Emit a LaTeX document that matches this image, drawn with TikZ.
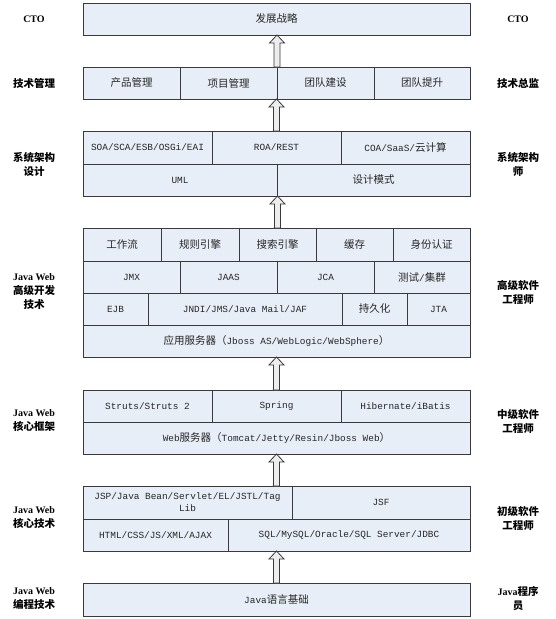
\documentclass[tikz,border=0pt]{standalone}
\usepackage{fontspec}
\setmainfont{Liberation Mono}
\newfontfamily\cjkf{Noto Sans CJK SC}
\newfontfamily\serf{Liberation Serif}
\usetikzlibrary{calc}
\newcommand\zh[1]{{\cjkf\fontsize{10.5pt}{14pt}\selectfont #1}}
\newcommand\zhb[1]{{\cjkf\bfseries\fontsize{10.5pt}{14pt}\selectfont #1}}
\newcommand\enb[1]{{\serf\bfseries\fontsize{10pt}{14pt}\selectfont #1}}
\definecolor{cellfill}{HTML}{E8EEF7}
\definecolor{cellline}{HTML}{3A3A3A}
\definecolor{arrfill}{HTML}{EDEDED}
\tikzset{
  cellbox/.style={draw=cellline, fill=cellfill, line width=1pt, inner sep=0pt, outer sep=0pt,
    font=\fontsize{9.4pt}{13pt}\selectfont, text=black!85, align=center},
  sidelbl/.style={align=center, inner sep=0pt, font=\fontsize{10pt}{14pt}\selectfont},
  blockarrow/.style={draw=cellline, fill=arrfill, line width=0.8pt, line join=miter},
}
\newcommand\cell[6]{\node[cellbox, minimum width=#4pt-#2pt, minimum height=#5pt-#3pt] (#1) at ({(#2+#4)/2},{(#3+#5)/2}) {#6};}
\newcommand\uparr[2]{\draw[blockarrow] let \p1=#1, \p2=#2 in
  (\x1-3pt,\y1) -- (\x1-3pt,\y2-8pt) -- (\x1-7.5pt,\y2-8pt) -- (\x1,\y2) -- (\x1+7.5pt,\y2-8pt) -- (\x1+3pt,\y2-8pt) -- (\x1+3pt,\y1) -- cycle;}
\begin{document}
\begin{tikzpicture}[x=1pt,y=-1pt]
\useasboundingbox[fill=white] (0,0) rectangle (555,619);
% level A
\cell{fz}{83}{3}{470}{35}{\zh{发展战略}}
% level B
\cell{cp}{83}{67}{180}{99}{\zh{产品管理}}
\cell{xm}{180}{67}{277}{99}{\zh{项目管理}}
\cell{tj}{277}{67}{374}{99}{\zh{团队建设}}
\cell{ts}{374}{67}{470}{99}{\zh{团队提升}}
% level C
\cell{soa}{83}{131}{212}{164}{SOA/SCA/ESB/OSGi/EAI}
\cell{roa}{212}{131}{341}{164}{ROA/REST}
\cell{coa}{341}{131}{470}{164}{COA/SaaS/\zh{云计算}}
\cell{uml}{83}{164}{277}{196}{UML}
\cell{sj}{277}{164}{470}{196}{\zh{设计模式}}
% level D
\cell{gzl}{83}{228}{161}{261}{\zh{工作流}}
\cell{gz}{161}{228}{239}{261}{\zh{规则引擎}}
\cell{ss}{239}{228}{316}{261}{\zh{搜索引擎}}
\cell{hc}{316}{228}{393}{261}{\zh{缓存}}
\cell{sf}{393}{228}{470}{261}{\zh{身份认证}}
\cell{jmx}{83}{261}{180}{293}{JMX}
\cell{jaas}{180}{261}{277}{293}{JAAS}
\cell{jca}{277}{261}{374}{293}{JCA}
\cell{cs}{374}{261}{470}{293}{\zh{测试}/\zh{集群}}
\cell{ejb}{83}{293}{148}{325}{EJB}
\cell{jndi}{148}{293}{342}{325}{JNDI/JMS/Java Mail/JAF}
\cell{cjh}{342}{293}{407}{325}{\zh{持久化}}
\cell{jta}{407}{293}{470}{325}{JTA}
\cell{app}{83}{325}{470}{357}{\zh{应用服务器（}Jboss AS/WebLogic/WebSphere\zh{）}}
% level E
\cell{struts}{83}{390}{212}{422}{Struts/Struts 2}
\cell{spring}{212}{390}{341}{422}{Spring}
\cell{hib}{341}{390}{470}{422}{Hibernate/iBatis}
\cell{web}{83}{422}{470}{454}{Web\zh{服务器（}Tomcat/Jetty/Resin/Jboss Web\zh{）}}
% level F
\cell{jsp}{83}{486}{292}{519}{\parbox{196pt}{\centering\baselineskip=12pt JSP/Java Bean/Servlet/EL/JSTL/Tag Lib}}
\cell{jsf}{292}{486}{470}{519}{JSF}
\cell{html}{83}{519}{228}{551}{HTML/CSS/JS/XML/AJAX}
\cell{sql}{228}{519}{470}{551}{SQL/MySQL/Oracle/SQL Server/JDBC}
% level G
\cell{java}{83}{583}{470}{616}{Java\zh{语言基础}}
% arrows
\uparr{(xm.north east)}{(fz.south)}
\uparr{(roa.north)}{(xm.south east)}
\uparr{(ss.north)}{(uml.south east)}
\uparr{(spring.north)}{(app.south)}
\uparr{(jsp.north -| web.south)}{(web.south)}
\uparr{(java.north)}{(sql.south -| java.north)}
% side labels
\node[sidelbl] (l1) at (34,19) {\enb{CTO}};
\node[sidelbl] (r1) at (518,19) {\enb{CTO}};
\node[sidelbl] (l2) at (34,83) {\zhb{技术管理}};
\node[sidelbl] (r2) at (518,83) {\zhb{技术总监}};
\node[sidelbl] (l3) at (34,164) {\zhb{系统架构}\\\zhb{设计}};
\node[sidelbl] (r3) at (518,164) {\zhb{系统架构}\\\zhb{师}};
\node[sidelbl] (l4) at (34,292) {\enb{Java Web}\\\zhb{高级开发}\\\zhb{技术}};
\node[sidelbl] (r4) at (518,292) {\zhb{高级软件}\\\zhb{工程师}};
\node[sidelbl] (l5) at (34,421) {\enb{Java Web}\\\zhb{核心框架}};
\node[sidelbl] (r5) at (518,421) {\zhb{中级软件}\\\zhb{工程师}};
\node[sidelbl] (l6) at (34,518) {\enb{Java Web}\\\zhb{核心技术}};
\node[sidelbl] (r6) at (518,518) {\zhb{初级软件}\\\zhb{工程师}};
\node[sidelbl] (l7) at (34,599) {\enb{Java Web}\\\zhb{编程技术}};
\node[sidelbl] (r7) at (518,599) {\enb{Java}\zhb{程序}\\\zhb{员}};
\end{tikzpicture}
\end{document}
